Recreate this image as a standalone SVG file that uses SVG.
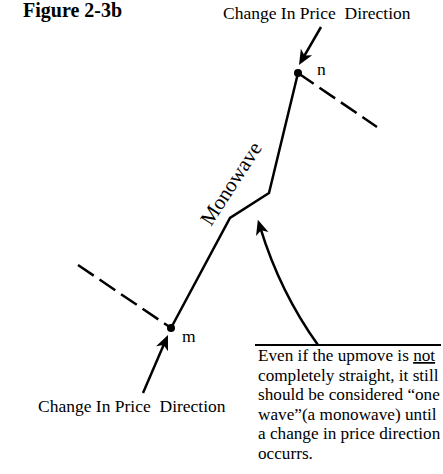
<svg xmlns="http://www.w3.org/2000/svg" width="443" height="474" viewBox="0 0 443 474">
<style>
  text { font-family: "Liberation Serif", "Times New Roman", serif; fill: #000; }
  .title { font-size: 20px; font-weight: bold; }
  .lbl { font-size: 17.5px; white-space: pre; }
  .box { font-size: 17.2px; }
  .solid { fill: none; stroke: #000; stroke-width: 2.5; stroke-linejoin: miter; }
  .dash { fill: none; stroke: #000; stroke-width: 2.5; stroke-dasharray: 19 7; }
  .arr { fill: none; stroke: #000; stroke-width: 2.5; marker-end: url(#ah); }
</style>
<defs>
  <marker id="ah" viewBox="-16 -7 18 14" refX="-8" refY="0" markerWidth="18" markerHeight="14" markerUnits="userSpaceOnUse" orient="auto">
    <path d="M0,0 L-15,-6.5 L-11,0 L-15,6.5 Z" fill="#000"/>
  </marker>
</defs>
<rect width="443" height="474" fill="#fff"/>
<text class="title" x="23" y="17">Figure 2-3b</text>

<g id="connectors">
  <polyline class="solid" points="298,73 269,193 230,218 171,328"/>
  <line class="dash" x1="298" y1="73" x2="377" y2="127"/>
  <line class="dash" x1="78" y1="265" x2="171" y2="328"/>
  <line class="arr" x1="321" y1="27" x2="303" y2="58.1"/>
  <line class="arr" x1="143" y1="393" x2="164.8" y2="342.3"/>
  <path class="arr" d="M318,345 Q280,292 260.2,227.3"/>
  <line x1="255" y1="345" x2="441" y2="345" stroke="#000" stroke-width="2"/>
</g>

<g id="node-n">
  <circle cx="298" cy="73" r="4"/>
  <text class="lbl" x="317" y="75">n</text>
</g>
<g id="node-m">
  <circle cx="171" cy="328" r="4"/>
  <text class="lbl" x="182" y="342">m</text>
</g>
<g id="label-top">
  <text class="lbl" x="223" y="18.5" xml:space="preserve">Change In Price  Direction</text>
</g>
<g id="label-bottom">
  <text class="lbl" x="38" y="412" xml:space="preserve">Change In Price  Direction</text>
</g>
<g id="label-monowave">
  <text class="lbl" transform="translate(211,227) rotate(-57)" style="font-size:21px">Monowave</text>
</g>
<g id="note">
  <text class="box" x="258" y="361">Even if the upmove is <tspan text-decoration="underline">not</tspan></text>
  <text class="box" x="258" y="380.5">completely straight, it still</text>
  <text class="box" x="258" y="400">should be considered “one</text>
  <text class="box" x="258" y="419.5">wave”(a monowave) until</text>
  <text class="box" x="258" y="439">a change in price direction</text>
  <text class="box" x="258" y="458.5">occurrs.</text>
</g>
</svg>
